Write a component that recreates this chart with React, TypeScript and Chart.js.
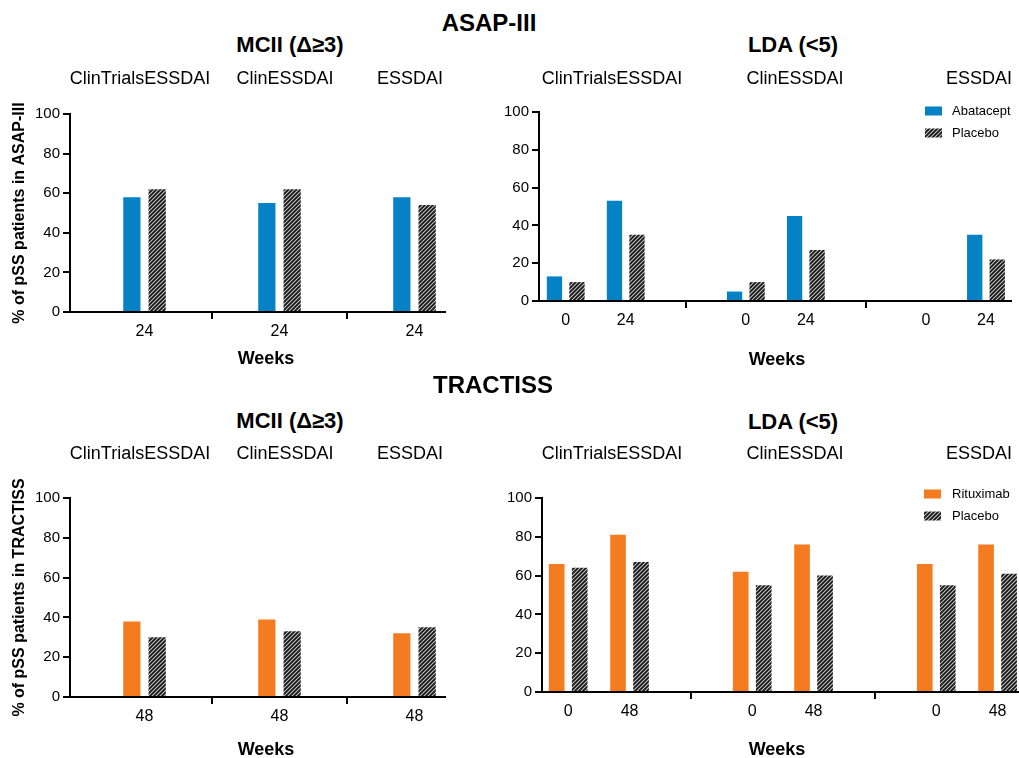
import React, { useEffect, useRef } from 'react';
import { Chart, registerables } from 'chart.js';

Chart.register(...registerables);

const FONT = '"Liberation Sans", Arial, Helvetica, sans-serif';
Chart.defaults.font.family = FONT;
Chart.defaults.color = '#000';

// ---------- data ----------
const groups = ['ClinTrialsESSDAI', 'ClinESSDAI', 'ESSDAI'];
const asapMciiWeeks = ['24'];
const asapLdaWeeks = ['0', '24'];
const tractissMciiWeeks = ['48'];
const tractissLdaWeeks = ['0', '48'];
const yTicks = [0, 20, 40, 60, 80, 100];

// values are ordered group by group, week by week
const asapMciiAbatacept = [58, 55, 58];
const asapMciiPlacebo = [62, 62, 54];
const asapLdaAbatacept = [13, 53, 5, 45, 0, 35];
const asapLdaPlacebo = [10, 35, 10, 27, 0, 22];
const tractissMciiRituximab = [38, 39, 32];
const tractissMciiPlacebo = [30, 33, 35];
const tractissLdaRituximab = [66, 81, 62, 76, 66, 76];
const tractissLdaPlacebo = [64, 67, 55, 60, 55, 61];

const ABATACEPT_BLUE = '#0581c6';
const RITUXIMAB_ORANGE = '#f47b20';

type PanelSpec = {
  key: string;
  canvas: { left: number; top: number; width: number; height: number };
  area: { l: number; t: number; r: number; b: number };
  xRange: [number, number];
  weeks: string[];
  step: number;
  drugLabel: string;
  drugColor: string;
  drugValues: number[];
  placeboValues: number[];
  yTitle?: string;
  legend?: { swatchX: number; textX: number; ys: number[] };
};

const panels: PanelSpec[] = [
  {
    key: 'asap-mcii',
    canvas: { left: 0, top: 60, width: 500, height: 320 },
    area: { l: 70, t: 114, r: 445, b: 312 },
    xRange: [-0.552, 2.226],
    weeks: asapMciiWeeks,
    step: 1,
    drugLabel: 'Abatacept',
    drugColor: ABATACEPT_BLUE,
    drugValues: asapMciiAbatacept,
    placeboValues: asapMciiPlacebo,
    yTitle: '% of pSS patients in ASAP-III',
  },
  {
    key: 'asap-lda',
    canvas: { left: 500, top: 60, width: 519, height: 320 },
    area: { l: 539, t: 112, r: 1011, b: 301 },
    xRange: [-0.445, 7.417],
    weeks: asapLdaWeeks,
    step: 3,
    drugLabel: 'Abatacept',
    drugColor: ABATACEPT_BLUE,
    drugValues: asapLdaAbatacept,
    placeboValues: asapLdaPlacebo,
    legend: { swatchX: 925, textX: 952, ys: [111, 133] },
  },
  {
    key: 'tractiss-mcii',
    canvas: { left: 0, top: 440, width: 500, height: 318 },
    area: { l: 70, t: 498, r: 445, b: 697 },
    xRange: [-0.552, 2.226],
    weeks: tractissMciiWeeks,
    step: 1,
    drugLabel: 'Rituximab',
    drugColor: RITUXIMAB_ORANGE,
    drugValues: tractissMciiRituximab,
    placeboValues: tractissMciiPlacebo,
    yTitle: '% of pSS patients in TRACTISS',
  },
  {
    key: 'tractiss-lda',
    canvas: { left: 500, top: 440, width: 519, height: 318 },
    area: { l: 542, t: 498, r: 1018, b: 692 },
    xRange: [-0.427, 7.333],
    weeks: tractissLdaWeeks,
    step: 3,
    drugLabel: 'Rituximab',
    drugColor: RITUXIMAB_ORANGE,
    drugValues: tractissLdaRituximab,
    placeboValues: tractissLdaPlacebo,
    legend: { swatchX: 924, textX: 952, ys: [494, 516] },
  },
];

type TextSpec = { t: string; x: number; y: number; size: number; bold?: boolean };

const leftGroupLabelX = [140, 285, 410];
const rightGroupLabelX = [612, 795, 979];

const texts: TextSpec[] = [
  { t: 'ASAP-III', x: 489, y: 23, size: 24, bold: true },
  { t: 'MCII (\u0394\u22653)', x: 290, y: 45, size: 22, bold: true },
  { t: 'LDA (<5)', x: 793, y: 45, size: 22, bold: true },
  ...groups.map((g, i) => ({ t: g, x: leftGroupLabelX[i], y: 78, size: 18 })),
  ...groups.map((g, i) => ({ t: g, x: rightGroupLabelX[i], y: 78, size: 18 })),
  { t: 'Weeks', x: 266, y: 358, size: 18, bold: true },
  { t: 'Weeks', x: 777, y: 359, size: 18, bold: true },
  { t: 'TRACTISS', x: 493, y: 385, size: 24, bold: true },
  { t: 'MCII (\u0394\u22653)', x: 290, y: 421, size: 22, bold: true },
  { t: 'LDA (<5)', x: 793, y: 422, size: 22, bold: true },
  ...groups.map((g, i) => ({ t: g, x: leftGroupLabelX[i], y: 453, size: 18 })),
  ...groups.map((g, i) => ({ t: g, x: rightGroupLabelX[i], y: 453, size: 18 })),
  { t: 'Weeks', x: 266, y: 749, size: 18, bold: true },
  { t: 'Weeks', x: 777, y: 749, size: 18, bold: true },
];

function makeHatch(target: CanvasRenderingContext2D): CanvasPattern | string {
  const c = document.createElement('canvas');
  c.width = 4;
  c.height = 4;
  const g = c.getContext('2d');
  if (!g) return '#444';
  g.fillStyle = '#141414';
  g.fillRect(0, 0, 4, 4);
  g.strokeStyle = '#c4c4c4';
  g.lineWidth = 1.1;
  g.beginPath();
  g.moveTo(0, 4);
  g.lineTo(4, 0);
  g.moveTo(-1, 1);
  g.lineTo(1, -1);
  g.moveTo(3, 5);
  g.lineTo(5, 3);
  g.stroke();
  return target.createPattern(c, 'repeat') || '#444';
}

function Panel({ spec }: { spec: PanelSpec }) {
  const ref = useRef<HTMLCanvasElement | null>(null);

  useEffect(() => {
    const canvas = ref.current;
    if (!canvas) return;
    const ctx2d = canvas.getContext('2d');
    if (!ctx2d) return;
    const hatch = makeHatch(ctx2d);

    const xs: number[] = [];
    const labelMap = new Map<number, string>();
    groups.forEach((_, g) => {
      spec.weeks.forEach((w, wi) => {
        const x = g * spec.step + wi;
        xs.push(x);
        labelMap.set(x, w);
      });
    });
    const sepOffset = (spec.weeks.length - 1 + spec.step) / 2;
    const seps = new Set<number>();
    for (let g = 0; g < groups.length - 1; g++) seps.add(g * spec.step + sepOffset);
    const tickVals = [...xs, ...seps].sort((a, b) => a - b);

    const { canvas: cv, area } = spec;
    const yWidth = area.l - cv.left;
    const padTop = area.t - cv.top;
    const padRight = cv.left + cv.width - area.r;
    const xHeight = cv.top + cv.height - area.b;

    const legendPlugin = {
      id: 'panelLegend',
      afterDraw(chart: any) {
        if (!spec.legend) return;
        const c = chart.ctx as CanvasRenderingContext2D;
        c.save();
        chart.data.datasets.forEach((ds: any, i: number) => {
          const y = spec.legend!.ys[i] - cv.top;
          c.fillStyle = ds.backgroundColor;
          c.fillRect(spec.legend!.swatchX - cv.left, y - 4.5, 17, 9);
          c.fillStyle = '#000';
          c.font = `13px ${FONT}`;
          c.textBaseline = 'middle';
          c.textAlign = 'left';
          c.fillText(ds.label, spec.legend!.textX - cv.left, y + 0.5);
        });
        c.restore();
      },
    };

    const chart = new Chart(canvas, {
      type: 'bar',
      data: {
        datasets: [
          {
            label: spec.drugLabel,
            data: spec.drugValues.map((v, i) => ({ x: xs[i], y: v })),
            backgroundColor: spec.drugColor,
            borderWidth: 0,
            categoryPercentage: 0.75,
            barPercentage: 0.68,
          },
          {
            label: 'Placebo',
            data: spec.placeboValues.map((v, i) => ({ x: xs[i], y: v })),
            backgroundColor: hatch as any,
            borderWidth: 0,
            categoryPercentage: 0.75,
            barPercentage: 0.68,
          },
        ],
      },
      options: {
        responsive: false,
        maintainAspectRatio: false,
        animation: false,
        devicePixelRatio: 1,
        layout: { padding: { left: 0, top: padTop, right: padRight, bottom: 0 } },
        plugins: {
          legend: { display: false },
          tooltip: { enabled: false },
          title: { display: false },
        },
        scales: {
          x: {
            type: 'linear',
            offset: false,
            min: spec.xRange[0],
            max: spec.xRange[1],
            afterBuildTicks: (s: any) => {
              s.ticks = tickVals.map((v) => ({ value: v }));
            },
            afterFit: (s: any) => {
              s.height = xHeight;
            },
            ticks: {
              autoSkip: false,
              maxRotation: 0,
              minRotation: 0,
              padding: 3,
              color: '#000',
              font: { size: 16 },
              callback: (v: any) => labelMap.get(Number(v)) ?? '',
            },
            grid: {
              display: true,
              offset: false,
              drawOnChartArea: false,
              drawTicks: true,
              tickLength: 7,
              lineWidth: 2,
              color: 'rgba(0,0,0,0)',
              tickColor: (c: any) => (c.tick && seps.has(c.tick.value) ? '#000' : 'rgba(0,0,0,0)'),
            },
            border: { display: true, color: '#000', width: 2 },
          },
          y: {
            type: 'linear',
            min: 0,
            max: 100,
            afterBuildTicks: (s: any) => {
              s.ticks = yTicks.map((v) => ({ value: v }));
            },
            afterFit: (s: any) => {
              s.width = yWidth;
            },
            ticks: { color: '#000', padding: 3, font: { size: 15 } },
            grid: {
              display: true,
              drawOnChartArea: false,
              drawTicks: true,
              tickLength: 7,
              lineWidth: 2,
              color: '#000',
            },
            border: { display: true, color: '#000', width: 2 },
            title: {
              display: !!spec.yTitle,
              text: spec.yTitle || '',
              color: '#000',
              font: { size: 16, weight: 'bold' },
              padding: { top: 10, bottom: 0 },
            },
          },
        },
      } as any,
      plugins: [legendPlugin],
    });

    return () => chart.destroy();
  }, [spec]);

  return (
    <canvas
      ref={ref}
      width={spec.canvas.width}
      height={spec.canvas.height}
      style={{
        position: 'absolute',
        left: spec.canvas.left,
        top: spec.canvas.top,
        width: spec.canvas.width,
        height: spec.canvas.height,
      }}
    />
  );
}

export default function App() {
  return (
    <div
      style={{
        position: 'absolute',
        left: 0,
        top: 0,
        width: 1019,
        height: 758,
        background: '#fff',
        fontFamily: FONT,
        color: '#000',
        overflow: 'hidden',
      }}
    >
      {panels.map((p) => (
        <Panel key={p.key} spec={p} />
      ))}
      {texts.map((tx, i) => (
        <div
          key={i}
          style={{
            position: 'absolute',
            left: tx.x,
            top: tx.y,
            transform: 'translate(-50%, -50%)',
            fontSize: tx.size,
            fontWeight: tx.bold ? 'bold' : 'normal',
            lineHeight: 1,
            whiteSpace: 'nowrap',
          }}
        >
          {tx.t}
        </div>
      ))}
    </div>
  );
}
